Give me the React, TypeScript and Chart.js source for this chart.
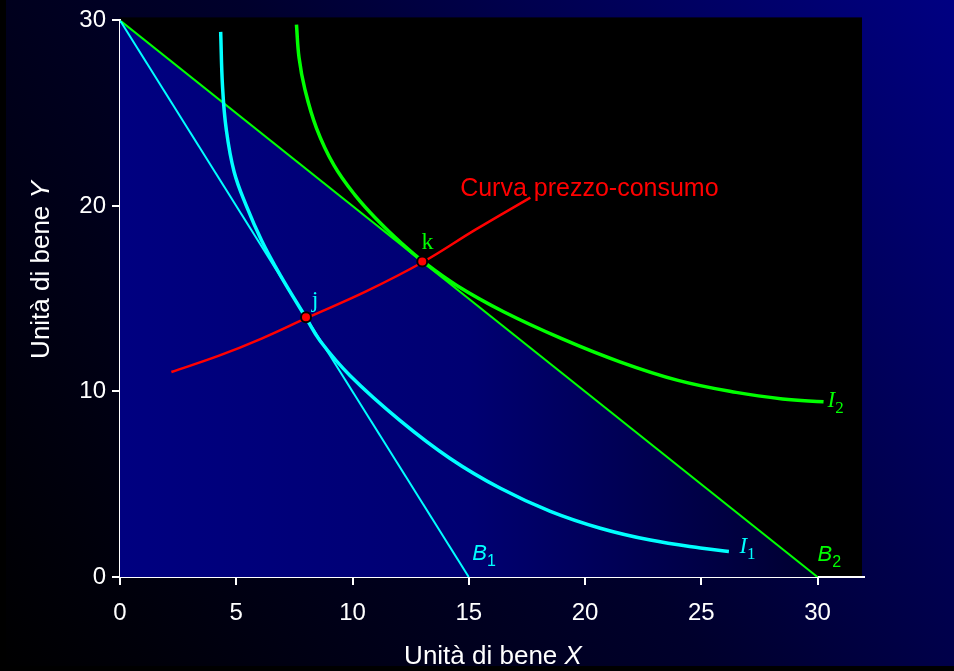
import React, { useEffect, useRef } from 'react';
import { Chart, registerables } from 'chart.js';

Chart.register(...registerables);

// ---- data (units of goods) ----
const xTicks = [0, 5, 10, 15, 20, 25, 30];
const yTicks = [0, 10, 20, 30];

const b1X = [0, 15];
const b1Y = [30, 0];
const b2X = [0, 30];
const b2Y = [30, 0];

const i1X = [4.33, 4.41, 4.57, 4.91, 5.44, 6.09, 6.88, 8.01, 8.61, 9.9, 12.05, 14.2, 16.36, 18.51, 20.66, 22.81, 24.96, 26.19];
const i1Y = [29.38, 26.43, 24.13, 21.83, 19.99, 18.14, 16.3, 13.95, 12.72, 10.85, 8.43, 6.39, 4.78, 3.54, 2.63, 1.99, 1.56, 1.38];

const i2X = [7.59, 7.7, 7.95, 8.45, 9.2, 10.1, 11.1, 12.1, 13.05, 14.5, 16.5, 19.0, 21.5, 24.0, 26.5, 28.5, 30.26];
const i2Y = [29.77, 28.0, 26.3, 24.2, 22.2, 20.6, 19.2, 18.0, 16.99, 15.7, 14.3, 12.85, 11.6, 10.6, 9.95, 9.6, 9.44];

const pccX = [2.21, 4.26, 6.09, 8.01, 10.56, 13.05, 15.29, 17.65];
const pccY = [11.05, 11.93, 12.85, 13.95, 15.38, 16.99, 18.72, 20.45];

const eqX = [8, 13];
const eqY = [14, 17];
const eqNames = ['j', 'k'];

const pccLabel = 'Curva prezzo-consumo';
const xTitle = ['Unità di bene ', 'X'];
const yTitle = ['Unità di bene ', 'Y'];

const CYAN = '#00ffff';
const GREEN = '#00ff00';
const RED = '#ff0000';
const SANS = '"Liberation Sans", Arial, sans-serif';
const SERIF = '"Liberation Serif", "Times New Roman", serif';

const pts = (xs: number[], ys: number[]) => xs.map((x, i) => ({ x, y: ys[i] }));

const bgPlugin = {
  id: 'bgPlugin',
  beforeDraw(chart: any) {
    const { ctx, width, height, chartArea } = chart;
    ctx.save();
    ctx.fillStyle = '#000';
    ctx.fillRect(0, 0, width, height);
    const g = ctx.createLinearGradient(0, height, width, 0);
    g.addColorStop(0, '#000000');
    g.addColorStop(0.5, '#00002c');
    g.addColorStop(1, '#000082');
    ctx.fillStyle = g;
    ctx.fillRect(6, 0, width - 6, height - 5);
    ctx.fillStyle = '#000';
    ctx.fillRect(chartArea.left, chartArea.top - 3, chartArea.right - chartArea.left - 2, chartArea.bottom - chartArea.top + 3);
    ctx.restore();
  },
};

function drawSub(ctx: any, x: number, y: number, main: string, sub: string, mainFont: string, subFont: string, color: string) {
  ctx.fillStyle = color;
  ctx.textAlign = 'left';
  ctx.textBaseline = 'alphabetic';
  ctx.font = mainFont;
  ctx.fillText(main, x, y);
  const w = ctx.measureText(main).width;
  ctx.font = subFont;
  ctx.fillText(sub, x + w, y + 6);
}

const labelPlugin = {
  id: 'labelPlugin',
  afterDraw(chart: any) {
    const { ctx, scales } = chart;
    const X = (v: number) => scales.x.getPixelForValue(v);
    const Y = (v: number) => scales.y.getPixelForValue(v);
    ctx.save();
    // curve label
    ctx.fillStyle = RED;
    ctx.font = `25px ${SANS}`;
    ctx.textAlign = 'left';
    ctx.textBaseline = 'alphabetic';
    ctx.fillText(pccLabel, X(14.63), Y(20.55));
    // point labels
    ctx.font = `24px ${SERIF}`;
    ctx.textAlign = 'center';
    ctx.fillStyle = CYAN;
    ctx.fillText(eqNames[0], X(8.39), Y(14.54));
    ctx.fillStyle = GREEN;
    ctx.fillText(eqNames[1], X(13.23), Y(17.66));
    // curve names
    drawSub(ctx, X(30.43), Y(9.18), 'I', '2', `italic 23px ${SERIF}`, `17px ${SERIF}`, GREEN);
    drawSub(ctx, X(26.64), Y(1.29), 'I', '1', `italic 23px ${SERIF}`, `17px ${SERIF}`, CYAN);
    drawSub(ctx, X(15.15), Y(0.91), 'B', '1', `italic 22px ${SANS}`, `16px ${SANS}`, CYAN);
    drawSub(ctx, X(30.0), Y(0.86), 'B', '2', `italic 22px ${SANS}`, `16px ${SANS}`, GREEN);

    // axis titles
    ctx.fillStyle = '#ffffff';
    ctx.textBaseline = 'alphabetic';
    ctx.textAlign = 'left';
    const norm = `26px ${SANS}`;
    const ital = `italic 26px ${SANS}`;
    ctx.font = norm;
    const w1 = ctx.measureText(xTitle[0]).width;
    ctx.font = ital;
    const w2 = ctx.measureText(xTitle[1]).width;
    const cx = 493;
    let sx = cx - (w1 + w2) / 2;
    ctx.font = norm;
    ctx.fillText(xTitle[0], sx, 664);
    ctx.font = ital;
    ctx.fillText(xTitle[1], sx + w1, 664);

    ctx.translate(49, 270);
    ctx.rotate(-Math.PI / 2);
    ctx.font = norm;
    const v1 = ctx.measureText(yTitle[0]).width;
    ctx.font = ital;
    const v2 = ctx.measureText(yTitle[1]).width;
    sx = -(v1 + v2) / 2;
    ctx.font = norm;
    ctx.fillText(yTitle[0], sx, 0);
    ctx.font = ital;
    ctx.fillText(yTitle[1], sx + v1, 0);
    ctx.restore();
  },
};

export default function App() {
  const ref = useRef<HTMLCanvasElement | null>(null);
  useEffect(() => {
    if (!ref.current) return;
    const chart = new Chart(ref.current, {
      type: 'scatter',
      data: {
        datasets: [
          {
            label: 'eq',
            data: pts(eqX, eqY),
            pointRadius: 5,
            pointBackgroundColor: RED,
            pointBorderColor: '#000',
            pointBorderWidth: 2,
            showLine: false,
            order: 0,
          } as any,
          {
            label: 'pcc',
            data: pts(pccX, pccY),
            showLine: true,
            borderColor: RED,
            borderWidth: 2.5,
            pointRadius: 0,
            tension: 0.4,
            order: 1,
          },
          {
            label: 'I2',
            data: pts(i2X, i2Y),
            showLine: true,
            borderColor: GREEN,
            borderWidth: 3.5,
            pointRadius: 0,
            tension: 0.4,
            order: 2,
          },
          {
            label: 'I1',
            data: pts(i1X, i1Y),
            showLine: true,
            borderColor: CYAN,
            borderWidth: 3.5,
            pointRadius: 0,
            tension: 0.4,
            order: 3,
          },
          {
            label: 'B1',
            data: pts(b1X, b1Y),
            showLine: true,
            borderColor: CYAN,
            borderWidth: 2,
            pointRadius: 0,
            order: 4,
          },
          {
            label: 'B2',
            data: pts(b2X, b2Y),
            showLine: true,
            borderColor: GREEN,
            borderWidth: 2,
            pointRadius: 0,
            fill: 'origin',
            backgroundColor: (c: any) => {
              const ch = c.chart;
              const area = ch.chartArea;
              if (!area) return '#000080';
              const g = ch.ctx.createLinearGradient(area.left, 0, ch.scales.x.getPixelForValue(30), 0);
              g.addColorStop(0, '#000080');
              g.addColorStop(0.5, '#000072');
              g.addColorStop(1, '#000030');
              return g;
            },
            order: 5,
          } as any,
        ],
      },
      options: {
        animation: false,
        responsive: true,
        maintainAspectRatio: false,
        layout: { padding: { top: 18, right: 90, left: 0, bottom: 0 } },
        plugins: {
          legend: { display: false },
          tooltip: { enabled: false },
          filler: { drawTime: 'beforeDatasetsDraw' },
        } as any,
        scales: {
          x: {
            type: 'linear',
            min: 0,
            max: 32,
            afterBuildTicks: (s: any) => {
              s.ticks = xTicks.map((v) => ({ value: v }));
            },
            afterFit: (s: any) => {
              s.height = 94;
            },
            grid: { display: true, drawOnChartArea: false, color: '#ffffff', lineWidth: 2, tickLength: 8 },
            border: { display: true, color: '#ffffff', width: 2 },
            ticks: { color: '#ffffff', font: { family: SANS, size: 24 }, padding: 14, maxRotation: 0, autoSkip: false },
          },
          y: {
            type: 'linear',
            min: 0,
            max: 30,
            afterBuildTicks: (s: any) => {
              s.ticks = yTicks.map((v) => ({ value: v }));
            },
            afterFit: (s: any) => {
              s.width = 120;
            },
            grid: { display: true, drawOnChartArea: false, color: '#ffffff', lineWidth: 2, tickLength: 8 },
            border: { display: true, color: '#ffffff', width: 2 },
            ticks: { color: '#ffffff', font: { family: SANS, size: 24 }, padding: 6, autoSkip: false },
          },
        },
      },
      plugins: [bgPlugin, labelPlugin],
    });
    return () => chart.destroy();
  }, []);
  return (
    <div style={{ position: 'fixed', left: 0, top: 0, width: 954, height: 671 }}>
      <canvas ref={ref} />
    </div>
  );
}
